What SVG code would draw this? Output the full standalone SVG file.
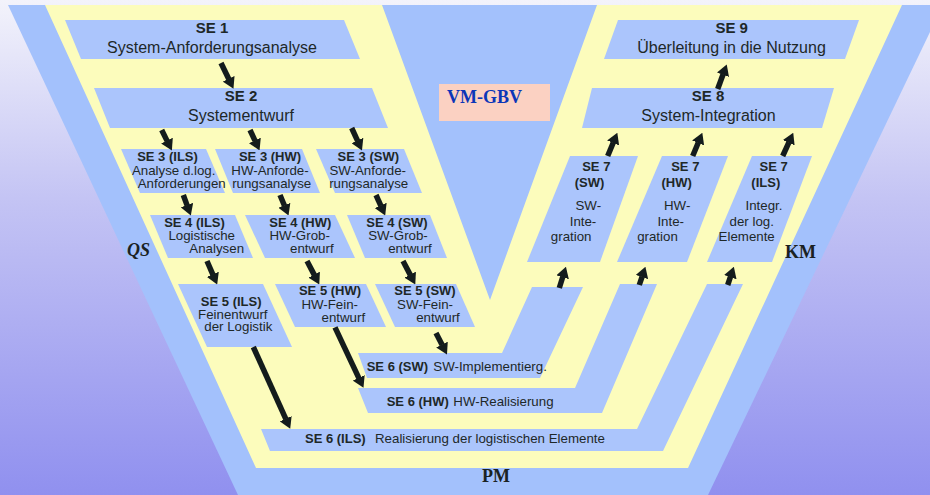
<svg xmlns="http://www.w3.org/2000/svg" width="930" height="495" viewBox="0 0 930 495">
  <defs>
    <linearGradient id="sky" x1="0" y1="0" x2="0" y2="1">
      <stop offset="0" stop-color="#f3f3fb"/>
      <stop offset="0.4" stop-color="#c4c4f4"/>
      <stop offset="1" stop-color="#9090ef"/>
    </linearGradient>
    <marker id="head" markerUnits="userSpaceOnUse" markerWidth="11" markerHeight="13" viewBox="0 0 11 13" refX="0.5" refY="6.5" orient="auto">
      <path d="M0,0 L11,6.5 L0,13 Z" fill="#141c1c"/>
    </marker>
    <style>
      .box { fill: #abc5fc; }
      .t { font-family: "Liberation Sans", Arial, sans-serif; font-size: 13.3px; fill: #1e2828; text-anchor: middle; }
      .b { font-weight: bold; font-size: 13px; }
      .big { font-size: 16px; }
      .bigb { font-size: 15px; font-weight: bold; }
      .s { text-anchor: start; }
      .mark { font-family: "Liberation Serif", "Times New Roman", serif; font-weight: bold; font-size: 18px; fill: #1a2222; }
      .arr { stroke: #141c1c; stroke-width: 5.5; fill: none; marker-end: url(#head); }
    </style>
  </defs>

  <!-- backdrop -->
  <rect width="930" height="495" fill="url(#sky)"/>

  <!-- outer blue funnel -->
  <polygon points="8,5 943,5 708,495 238,495" fill="#a3c1fc"/>

  <!-- yellow V -->
  <polygon points="45,5 382,5 490,300 597,5 902,5 688,468 256,468" fill="#fcfcbc"/>

  <!-- side labels -->
  <g id="label-vm">
    <rect x="439" y="84" width="111" height="37" fill="#fbd1c2"/>
    <text x="447" y="102.5" class="mark" style="fill:#0b36b8">VM-GBV</text>
  </g>
  <g id="label-qs"><text x="127" y="256" class="mark" style="font-style:italic">QS</text></g>
  <g id="label-km"><text x="785" y="258" class="mark">KM</text></g>
  <g id="label-pm"><text x="482" y="481.5" class="mark">PM</text></g>

  <!-- left branch: specification -->
  <g id="se1">
    <polygon class="box" points="65,20 344,20 360,59 81,59"/>
    <text class="t bigb" x="212" y="33.3">SE 1</text>
    <text class="t big" x="212" y="53.3">System-Anforderungsanalyse</text>
  </g>
  <g id="se2">
    <polygon class="box" points="94,88 372,88 388,128 110,128"/>
    <text class="t bigb" x="241" y="101">SE 2</text>
    <text class="t big" x="241" y="120.7">Systementwurf</text>
  </g>

  <g id="se3-ils">
    <polygon class="box" points="121,149 206,149 225,193 140,193"/>
    <text class="t b" x="167.5" y="161">SE 3 (ILS)</text>
    <text class="t" x="173.7" y="175">Analyse d.log.</text>
    <text class="t" x="181.7" y="188">Anforderungen</text>
  </g>
  <g id="se3-hw">
    <polygon class="box" points="215,149 302,149 320,193 233,193"/>
    <text class="t b" x="270" y="161">SE 3 (HW)</text>
    <text class="t" x="270" y="175">HW-Anforde-</text>
    <text class="t" x="271.7" y="188">rungsanalyse</text>
  </g>
  <g id="se3-sw">
    <polygon class="box" points="316,149 404,149 422,193 335,193"/>
    <text class="t b" x="368.3" y="161">SE 3 (SW)</text>
    <text class="t" x="367.7" y="175">SW-Anforde-</text>
    <text class="t" x="368.7" y="188">rungsanalyse</text>
  </g>

  <g id="se4-ils">
    <polygon class="box" points="150,215 235,215 253,258 168,258"/>
    <text class="t b" x="194.5" y="227.3">SE 4 (ILS)</text>
    <text class="t" x="201.7" y="240">Logistische</text>
    <text class="t" x="216.7" y="252.7">Analysen</text>
  </g>
  <g id="se4-hw">
    <polygon class="box" points="245,215 335,215 355,258 265,258"/>
    <text class="t b" x="300.3" y="227.3">SE 4 (HW)</text>
    <text class="t" x="299.7" y="240">HW-Grob-</text>
    <text class="t" x="311.8" y="252.7">entwurf</text>
  </g>
  <g id="se4-sw">
    <polygon class="box" points="347,215 430,215 447,258 365,258"/>
    <text class="t b" x="397" y="227.3">SE 4 (SW)</text>
    <text class="t" x="398" y="240">SW-Grob-</text>
    <text class="t" x="410" y="252.7">entwurf</text>
  </g>

  <g id="se5-ils">
    <polygon class="box" points="178,284 263,284 292,347 207,347"/>
    <text class="t b" x="231.2" y="306">SE 5 (ILS)</text>
    <text class="t" x="232.8" y="319.3">Feinentwurf</text>
    <text class="t" x="238.3" y="331">der Logistik</text>
  </g>
  <g id="se5-hw">
    <polygon class="box" points="275,284 366,284 386,327 295,327"/>
    <text class="t b" x="330" y="295">SE 5 (HW)</text>
    <text class="t" x="329.7" y="309">HW-Fein-</text>
    <text class="t" x="343.3" y="321.7">entwurf</text>
  </g>
  <g id="se5-sw">
    <polygon class="box" points="375,284 456,284 475,327 395,327"/>
    <text class="t b" x="425" y="295">SE 5 (SW)</text>
    <text class="t" x="425" y="309">SW-Fein-</text>
    <text class="t" x="438" y="321.7">entwurf</text>
  </g>

  <!-- bottom: realisation bands rising into the right branch -->
  <g id="se6-sw">
    <polygon class="box" points="358,353 502,353 532,287 583,287 540,378 367,378"/>
    <text class="t s" y="370.7"><tspan x="366.7" class="b">SE 6 (SW)</tspan><tspan x="433.3">SW-Implementierg.</tspan></text>
  </g>
  <g id="se6-hw">
    <polygon class="box" points="358,388 575,388 620,284 657,284 602,413 368,413"/>
    <text class="t s" y="406"><tspan x="386.7" class="b">SE 6 (HW)</tspan><tspan x="453.3">HW-Realisierung</tspan></text>
  </g>
  <g id="se6-ils">
    <polygon class="box" points="261,429 637,429 707,284 743,284 663,451 270,451"/>
    <text class="t s" y="443.3"><tspan x="305" class="b">SE 6 (ILS)</tspan><tspan x="375">Realisierung der logistischen Elemente</tspan></text>
  </g>

  <!-- right branch: integration -->
  <g id="se7-sw">
    <polygon class="box" points="570,156 638,156 600,262 527,262"/>
    <text class="t b" x="596.3" y="170.7">SE 7</text>
    <text class="t b" x="589.5" y="187.3">(SW)</text>
    <text class="t" x="588.3" y="210">SW-</text>
    <text class="t" x="583" y="225.7">Inte-</text>
    <text class="t" x="571.2" y="241">gration</text>
  </g>
  <g id="se7-hw">
    <polygon class="box" points="662,156 728,156 687,262 617,262"/>
    <text class="t b" x="685.3" y="170.7">SE 7</text>
    <text class="t b" x="676.7" y="187.3">(HW)</text>
    <text class="t" x="677.2" y="210">HW-</text>
    <text class="t" x="670.7" y="225.7">Inte-</text>
    <text class="t" x="657.5" y="241">gration</text>
  </g>
  <g id="se7-ils">
    <polygon class="box" points="752,156 812,156 772,262 707,262"/>
    <text class="t b" x="773.7" y="170.7">SE 7</text>
    <text class="t b" x="765.8" y="187.3">(ILS)</text>
    <text class="t" x="764" y="210">Integr.</text>
    <text class="t" x="751.7" y="225.7">der log.</text>
    <text class="t" x="746.7" y="241">Elemente</text>
  </g>

  <g id="se8">
    <polygon class="box" points="592,88 834,88 822,128 582,128"/>
    <text class="t bigb" x="708" y="101">SE 8</text>
    <text class="t big" x="708.5" y="120.7">System-Integration</text>
  </g>
  <g id="se9">
    <polygon class="box" points="618,20 859,20 845,59 604,59"/>
    <text class="t bigb" x="731.7" y="33.3">SE 9</text>
    <text class="t big" x="731.5" y="53.3">Überleitung in die Nutzung</text>
  </g>

  <!-- flow arrows -->
  <g id="connectors">
    <line class="arr" x1="221" y1="63" x2="228.9" y2="79.3"/>
    <line class="arr" x1="161.7" y1="130" x2="167.2" y2="141.1"/>
    <line class="arr" x1="250" y1="130" x2="255.1" y2="140.9"/>
    <line class="arr" x1="351.7" y1="128" x2="357.6" y2="140.9"/>
    <line class="arr" x1="183.3" y1="195" x2="187.2" y2="205.6"/>
    <line class="arr" x1="280" y1="195" x2="284.5" y2="205.8"/>
    <line class="arr" x1="376" y1="195" x2="380.9" y2="205.9"/>
    <line class="arr" x1="207" y1="261" x2="213" y2="274.8"/>
    <line class="arr" x1="307" y1="261" x2="314.4" y2="275.1"/>
    <line class="arr" x1="403" y1="261" x2="410.4" y2="275.1"/>
    <line class="arr" x1="253.3" y1="347" x2="285.9" y2="419.2"/>
    <line class="arr" x1="335" y1="327.3" x2="359" y2="378.3"/>
    <line class="arr" x1="436" y1="333" x2="442.2" y2="345.1"/>
    <line class="arr" x1="559.3" y1="288" x2="562.8" y2="276.8"/>
    <line class="arr" x1="639.3" y1="285" x2="642.1" y2="276.6"/>
    <line class="arr" x1="727.7" y1="285" x2="730.5" y2="276.7"/>
    <line class="arr" x1="607.7" y1="156" x2="613.3" y2="142.5"/>
    <line class="arr" x1="692.7" y1="156" x2="698.3" y2="142.5"/>
    <line class="arr" x1="782.7" y1="156" x2="788.9" y2="142.3"/>
    <line class="arr" x1="717.7" y1="89" x2="723.1" y2="74.3"/>
  </g>
</svg>
